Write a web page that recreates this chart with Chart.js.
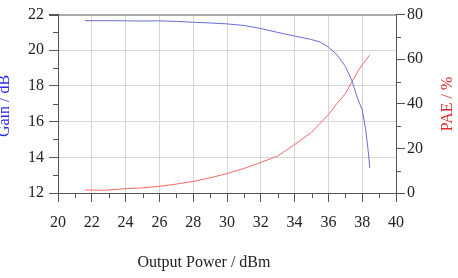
<!DOCTYPE html>
<html>
<head>
<meta charset="utf-8">
<script src="https://cdn.jsdelivr.net/npm/chart.js@4"></script>
<style>
  html, body { margin: 0; padding: 0; background: #fff; }
  #wrap { width: 458px; height: 278px; }
</style>
</head>
<body>
<div id="wrap"><canvas id="paChart" width="458" height="278"></canvas></div>
<script>
const outputPower = [21.6, 22, 22.5, 23, 24, 25, 26, 27, 28, 29, 30, 31, 32, 33, 34, 35, 35.5, 36, 36.5, 37, 37.4, 37.7, 38, 38.2, 38.35, 38.45];
const gain = [21.66, 21.66, 21.66, 21.66, 21.65, 21.64, 21.65, 21.62, 21.57, 21.53, 21.48, 21.39, 21.22, 21.0, 20.8, 20.6, 20.47, 20.18, 19.76, 19.1, 18.28, 17.38, 16.66, 15.6, 14.4, 13.4];
const pae = [1.4, 1.3, 1.2, 1.4, 1.9, 2.3, 3.0, 4.0, 5.2, 6.8, 8.7, 11.0, 13.7, 16.6, 21.7, 27.2, 31.2, 35.1, 40.1, 44.5, 50.0, 54.0, 57.5, 59.5, 61.0, 61.8];

const serif = 'Liberation Serif';
const axisCol = '#555';
const gridCol = '#d6d6d6';

// short minor ticks and the two axis titles
const extras = {
    id: 'extras',
    afterDraw(chart) {
        const c = chart.ctx, a = chart.chartArea;
        const x = chart.scales.x, y = chart.scales.y, y1 = chart.scales.y1;
        c.save();
        c.strokeStyle = axisCol;
        c.lineWidth = 1;
        c.beginPath();
        for (let v = 21; v < 40; v += 2) {
            const px = Math.round(x.getPixelForValue(v)) + 0.5;
            c.moveTo(px, a.bottom); c.lineTo(px, a.bottom + 5);
        }
        for (let v = 13; v < 22; v += 2) {
            const py = Math.round(y.getPixelForValue(v)) + 0.5;
            c.moveTo(a.left - 5, py); c.lineTo(a.left, py);
        }
        for (let v = 10; v < 80; v += 20) {
            const py = Math.round(y1.getPixelForValue(v)) + 0.5;
            c.moveTo(a.right, py); c.lineTo(a.right + 5, py);
        }
        c.stroke();

        c.font = '16px ' + serif;
        c.textAlign = 'center';
        c.textBaseline = 'alphabetic';
        c.fillStyle = '#222';
        c.fillText('Output Power / dBm', 204, 267);

        c.fillStyle = '#2b2be8';
        c.translate(9, 106);
        c.rotate(-Math.PI / 2);
        c.fillText('Gain / dB', 0, 0);
        c.restore();

        c.save();
        c.font = '16px ' + serif;
        c.textAlign = 'center';
        c.fillStyle = '#e02828';
        c.translate(452, 104);
        c.rotate(-Math.PI / 2);
        c.fillText('PAE / %', 0, 0);
        c.restore();
    }
};

new Chart(document.getElementById('paChart'), {
    type: 'line',
    data: {
        datasets: [{
            label: 'Gain',
            data: outputPower.map((p, i) => ({ x: p, y: gain[i] })),
            borderColor: '#6a6adc',
            borderWidth: 1,
            pointRadius: 0,
            tension: 0,
            yAxisID: 'y'
        }, {
            label: 'PAE',
            data: outputPower.map((p, i) => ({ x: p, y: pae[i] })),
            borderColor: '#f06a6a',
            borderWidth: 1,
            pointRadius: 0,
            tension: 0,
            yAxisID: 'y1'
        }]
    },
    options: {
        responsive: false,
        animation: false,
        layout: { padding: { top: 8, left: 0, right: 0, bottom: 0 } },
        plugins: { legend: { display: false }, tooltip: { enabled: false } },
        scales: {
            x: {
                type: 'linear',
                min: 20, max: 40,
                afterFit: s => { s.height = 85; },
                ticks: { stepSize: 2, padding: 11, color: '#222', font: { family: serif, size: 16 } },
                grid: { color: ctx => (ctx.tick && (ctx.tick.value === 20 || ctx.tick.value === 40)) ? 'rgba(0,0,0,0)' : gridCol, tickLength: 9, tickColor: axisCol },
                border: { color: axisCol }
            },
            y: {
                position: 'left',
                min: 12, max: 22,
                afterFit: s => { s.width = 58; },
                ticks: { stepSize: 2, padding: 5, color: '#222', font: { family: serif, size: 16 } },
                grid: {
                    color: ctx => (ctx.tick && ctx.tick.value === 22) ? '#aaa' : (ctx.tick && ctx.tick.value === 12 ? 'rgba(0,0,0,0)' : gridCol),
                    lineWidth: ctx => (ctx.tick && ctx.tick.value === 22) ? 2 : 1,
                    tickLength: 9, tickColor: axisCol
                },
                border: { color: axisCol }
            },
            y1: {
                position: 'right',
                min: 0, max: 80,
                afterFit: s => { s.width = 62; },
                ticks: { stepSize: 20, padding: 2, color: '#222', font: { family: serif, size: 16 } },
                grid: { drawOnChartArea: false, tickLength: 9, tickColor: axisCol },
                border: { color: axisCol }
            }
        }
    },
    plugins: [extras]
});
</script>
</body>
</html>
